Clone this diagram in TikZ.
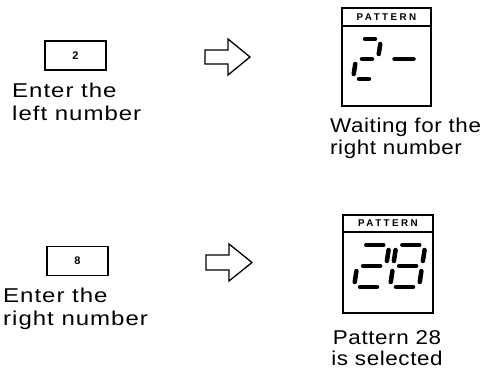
\documentclass[tikz,border=0pt]{standalone}
\usepackage{fontspec}
\newfontfamily\lblfont[FakeStretch=1.2,LetterSpace=5]{Liberation Sans}
\newfontfamily\lblfontb[FakeStretch=1.12,LetterSpace=3]{Liberation Sans}
\newfontfamily\patfont[LetterSpace=25]{Liberation Sans}
\newfontfamily\keyfont{Liberation Sans}
\begin{document}
\begin{tikzpicture}[x=1pt,y=-1pt,
  keybox/.style={draw, line width=1.3pt, minimum width=61pt, minimum height=29pt, inner sep=0pt, font=\keyfont\bfseries\fontsize{11}{13}\selectfont},
  lbl/.style={font=\lblfont\fontsize{20}{22.5}\selectfont, inner sep=0pt},
  lblb/.style={font=\lblfontb\fontsize{20}{21.5}\selectfont, inner sep=0pt},
  frame/.style={line width=1.6pt},
  pattxt/.style={font=\patfont\bfseries\fontsize{9.8}{11}\selectfont, inner sep=0pt},
  seg/.style={line width=4.5pt, line cap=round},
  hollowarrow/.style={draw, line width=1.3pt, line join=miter, fill=white}]
\useasboundingbox (0,0) rectangle (480,372);
\fill[white] (0,0) rectangle (480,372);

% ---- top row ----
\node[keybox] (key1) at (75.5,55.5) {2};
\node[lbl, anchor=north west, align=left] (txt1) at (12,83) {Enter the\\left number};
\draw[hollowarrow] (205,50) -- (228,50) -- (228,39) -- (250,57) -- (228,75) -- (228,64) -- (205,64) -- cycle;
\draw[frame] (342,8) rectangle (431,106);
\draw[frame] (342,26) -- (431,26);
\node[pattxt] (pat1) at (386.5,17.5) {PATTERN};
\begin{scope}[shift={(353,79)}, xslant=0.15]
  \draw[seg] (6,-40) -- (16,-40);
  \draw[seg] (22,-35) -- (22,-25);
  \draw[seg] (6,-20) -- (16,-20);
  \draw[seg] (0,-15) -- (0,-5);
  \draw[seg] (6,0) -- (16,0);
\end{scope}
\draw[seg] (394.5,59) -- (413.5,59);
\node[lblb, anchor=north west, align=left] (txt2) at (330,118) {Waiting for the\\right number};

% ---- bottom row ----
\node[keybox] (key2) at (77.5,261) {8};
\node[lbl, anchor=north west, align=left] (txt3) at (3,288) {Enter the\\right number};
\draw[hollowarrow] (206,255) -- (229,255) -- (229,244) -- (252,262.5) -- (229,281) -- (229,270) -- (206,270) -- cycle;
\draw[frame] (343,215) rectangle (433,313);
\draw[frame] (343,232) -- (433,232);
\node[pattxt] (pat2) at (388,223.5) {PATTERN};
\begin{scope}[shift={(354,287)}, xslant=0.15]
  \draw[seg] (6,-42) -- (23,-42);
  \draw[seg] (29,-37) -- (29,-26);
  \draw[seg] (6,-21) -- (23,-21);
  \draw[seg] (0,-16) -- (0,-5);
  \draw[seg] (6,0) -- (23,0);
\end{scope}
\begin{scope}[shift={(390,287)}, xslant=0.15]
  \draw[seg] (6,-42) -- (23,-42);
  \draw[seg] (29,-37) -- (29,-26);
  \draw[seg] (0,-37) -- (0,-26);
  \draw[seg] (6,-21) -- (23,-21);
  \draw[seg] (29,-16) -- (29,-5);
  \draw[seg] (0,-16) -- (0,-5);
  \draw[seg] (6,0) -- (23,0);
\end{scope}
\node[lblb, anchor=north, align=center] (txt4) at (387,330) {Pattern 28\\is selected};
\end{tikzpicture}
\end{document}
